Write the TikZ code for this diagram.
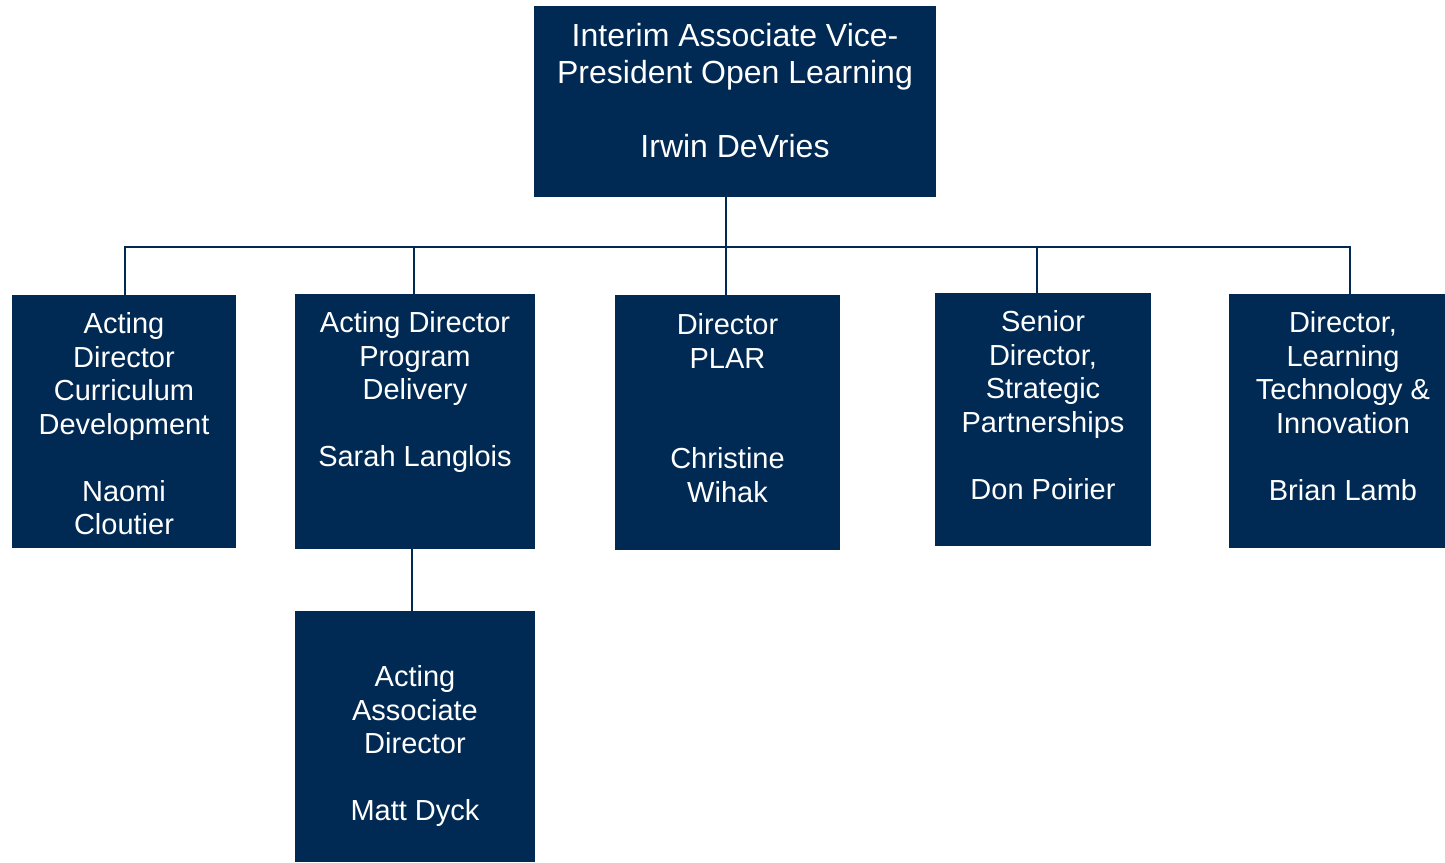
\documentclass[tikz,border=0pt]{standalone}
\usepackage{fontspec}
\setmainfont{Liberation Sans}
\usetikzlibrary{positioning}
\definecolor{navy}{HTML}{002A54}

\begin{document}
\begin{tikzpicture}[
    x=1pt, y=-1pt,
    orgbox/.style={fill=navy, draw=none, inner sep=0pt},
    orgtext/.style={white, align=center, inner sep=0pt, anchor=north,
        font=\fontsize{29}{33.5}\selectfont},
    headtext/.style={orgtext, font=\fontsize{32}{37}\selectfont},
    link/.style={navy, line width=2.5pt},
]
\useasboundingbox (0,0) rectangle (1445,862);

% =============================================
% BOXES
% =============================================
\node[orgbox, minimum width=402pt, minimum height=191pt] (head) at (735,101.5) {};
\node[orgbox, minimum width=224pt, minimum height=253pt] (curric) at (124,421.5) {};
\node[orgbox, minimum width=240pt, minimum height=255pt] (delivery) at (415,421.5) {};
\node[orgbox, minimum width=225pt, minimum height=255pt] (plar) at (727.5,422.5) {};
\node[orgbox, minimum width=216pt, minimum height=253pt] (partner) at (1043,419.5) {};
\node[orgbox, minimum width=216pt, minimum height=254pt] (tech) at (1337,421) {};
\node[orgbox, minimum width=240pt, minimum height=251pt] (assoc) at (415,736.5) {};

% =============================================
% TEXTS
% =============================================
\node[headtext, below=17.5pt of head.north] (head-t)
  {Interim Associate Vice-\\President Open Learning\\[37pt]Irwin DeVries};
\node[orgtext, below=17.5pt of curric.north] (curric-t)
  {Acting\\Director\\Curriculum\\Development\\[33.5pt]Naomi\\Cloutier};
\node[orgtext, below=17.5pt of delivery.north] (delivery-t)
  {Acting Director\\Program\\Delivery\\[33.5pt]Sarah Langlois};
\node[orgtext, below=18.5pt of plar.north] (plar-t)
  {Director\\PLAR\\[67pt]Christine\\Wihak};
\node[orgtext, below=17.5pt of partner.north] (partner-t)
  {Senior\\Director,\\Strategic\\Partnerships\\[33.5pt]Don Poirier};
\node[orgtext, below=17.5pt of tech.north, xshift=6pt] (tech-t)
  {Director,\\Learning\\Technology \&\\Innovation\\[33.5pt]Brian Lamb};
\node[orgtext, below=54.5pt of assoc.north] (assoc-t)
  {Acting\\Associate\\Director\\[33.5pt]Matt Dyck};

% =============================================
% CONNECTORS
% =============================================
\coordinate (busL) at (125,247);
\coordinate (busR) at (1350,247);
\draw[link] ([xshift=-9pt]head.south) -- ([xshift=-1.5pt]plar.north);
\draw[link] ([xshift=1pt]curric.north) -- (busL) -- (busR) -- ([xshift=13pt]tech.north);
\draw[link] ([xshift=-1pt]delivery.north |- busL) -- ([xshift=-1pt]delivery.north);
\draw[link] ([xshift=-6pt]partner.north |- busL) -- ([xshift=-6pt]partner.north);
\draw[link] ([xshift=-3pt]delivery.south) -- ([xshift=-3pt]assoc.north);

\end{tikzpicture}
\end{document}
